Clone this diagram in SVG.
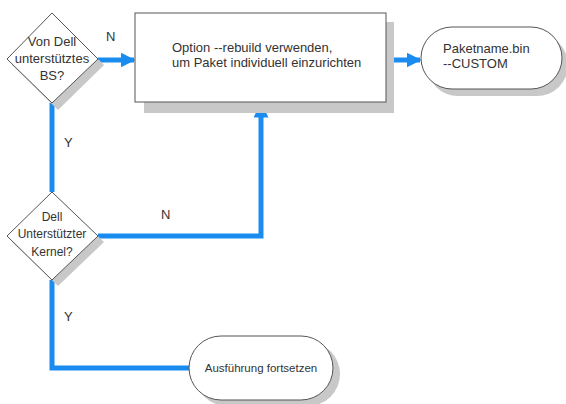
<svg xmlns="http://www.w3.org/2000/svg" width="566" height="404" viewBox="0 0 566 404">
<defs>
<style>
.shape{fill:#fff;stroke:#555;stroke-width:1}
.shadow{fill:#c8c8c8}
.t{font-family:"Liberation Sans",Arial,sans-serif;font-size:13px;fill:#333}
.s12{font-size:12px}
.s11{font-size:11.5px}
.tc{text-anchor:middle}
.con{fill:none;stroke:#1a8cf0;stroke-width:5}
</style>
<marker id="ah" viewBox="0 0 10 10" refX="9" refY="5" markerWidth="3" markerHeight="3" markerUnits="strokeWidth" orient="auto">
<path d="M0,0 L10,5 L0,10 z" fill="#1a8cf0"/>
</marker>
</defs>
<rect width="566" height="404" fill="#fff"/>
<g id="connectors">
<line class="con" x1="98" y1="60" x2="134" y2="60" marker-end="url(#ah)"/>
<line class="con" x1="386" y1="60" x2="420" y2="60" marker-end="url(#ah)"/>
<line class="con" x1="52" y1="103" x2="52" y2="192"/>
<polyline class="con" points="98,236 261,236 261,104" marker-end="url(#ah)"/>
<polyline class="con" points="52,280 52,368 190,368"/>
<text class="t" x="106" y="41">N</text>
<text class="t" x="64" y="147">Y</text>
<text class="t" x="161" y="219">N</text>
<text class="t" x="64" y="321">Y</text>
</g>
<g id="decision1">
<polygon class="shadow" points="58,19 104,65 58,110 12,65"/>
<polygon class="shape" points="52,13 98,59 52,103 7,59"/>
<text class="t tc" x="52" y="46">Von Dell</text>
<text class="t tc" x="52" y="63">unterstütztes</text>
<text class="t tc" x="52" y="80">BS?</text>
</g>
<g id="process">
<rect class="shadow" x="144" y="22" width="250" height="91"/>
<rect class="shape" x="135" y="13" width="251" height="89"/>
<text class="t" x="172" y="52">Option --rebuild verwenden,</text>
<text class="t" x="172" y="67">um Paket individuell einzurichten</text>
</g>
<g id="terminal1">
<rect class="shadow" x="427" y="34" width="141" height="62" rx="31"/>
<rect class="shape" x="421" y="27" width="141" height="62" rx="31"/>
<text class="t" x="443" y="53">Paketname.bin</text>
<text class="t" x="443" y="68">--CUSTOM</text>
</g>
<g id="decision2">
<polygon class="shadow" points="58,198 104,242 58,286 12,242"/>
<polygon class="shape" points="52,192 98,236 52,280 7,236"/>
<text class="t s12 tc" x="52" y="221">Dell</text>
<text class="t s12 tc" x="52" y="238">Unterstützter</text>
<text class="t s12 tc" x="52" y="256">Kernel?</text>
</g>
<g id="terminal2">
<rect class="shadow" x="195" y="342" width="145" height="64" rx="32"/>
<rect class="shape" x="189" y="336" width="144" height="64" rx="32"/>
<text class="t s11 tc" x="261" y="372">Ausführung fortsetzen</text>
</g>
</svg>
